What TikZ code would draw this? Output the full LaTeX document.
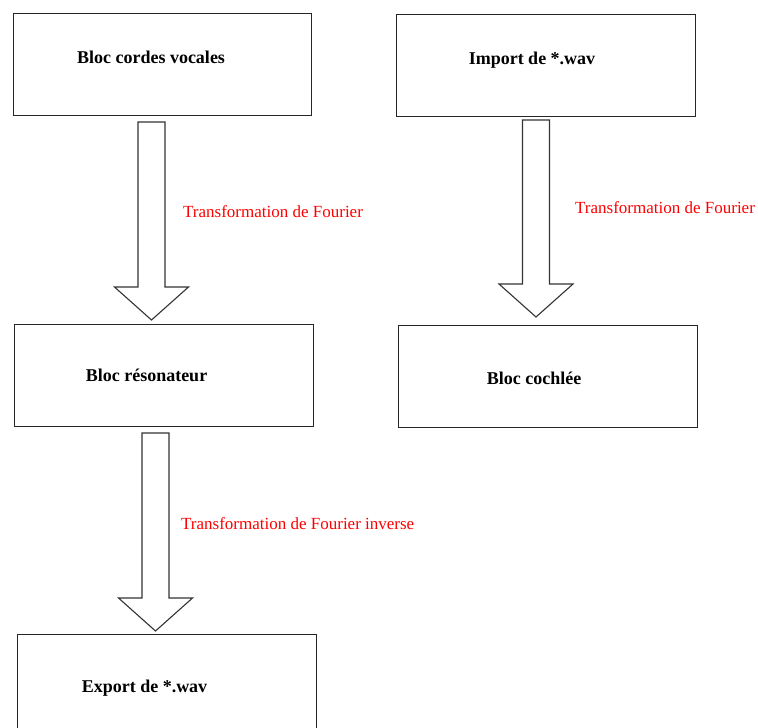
\documentclass[tikz,border=0pt]{standalone}
\usepackage{fontspec}
\setmainfont{Liberation Serif}
\usetikzlibrary{calc}
\tikzset{
  box/.style={draw=black!85, line width=1.2pt, rectangle, inner sep=0pt, anchor=north west},
  boxtext/.style={font=\fontsize{18}{20}\selectfont\bfseries, text=black, inner sep=0pt},
  redlab/.style={font=\fontsize{17}{19}\selectfont, text=red, inner sep=0pt, anchor=west},
  barrow/.style={draw=black!80, line width=1.1pt, fill=white, line join=miter},
}
\newcommand\blockarrow[2]{%
  \draw[barrow] ($(#1)+(-13.5,0)$) -- ($(#2)+(-13.5,-33)$) -- ($(#2)+(-37,-33)$) -- (#2)
    -- ($(#2)+(37,-33)$) -- ($(#2)+(13.5,-33)$) -- ($(#1)+(13.5,0)$) -- cycle;}
\begin{document}
\begin{tikzpicture}[x=1pt, y=-1pt]
\useasboundingbox (0,0) rectangle (758,728);
\fill[white] (0,0) rectangle (758,728);
% boxes
\node[box, minimum width=298pt, minimum height=102pt] (b1) at (12.5,13) {};
\node[box, minimum width=299pt, minimum height=102pt] (b2) at (395.5,13.5) {};
\node[box, minimum width=299pt, minimum height=102pt] (b3) at (14,324) {};
\node[box, minimum width=299pt, minimum height=102pt] (b4) at (397.5,325) {};
\node[box, minimum width=299pt, minimum height=120pt] (b5) at (17,634) {};
% box texts
\node[boxtext] (t1) at (151,57) {Bloc cordes vocales};
\node[boxtext] (t2) at (532,60) {Import de *.wav};
\node[boxtext] (t3) at (146.5,375) {Bloc résonateur};
\node[boxtext] (t4) at (534,378) {Bloc cochlée};
\node[boxtext] (t5) at (144.5,688) {Export de *.wav};
% arrow endpoints
\coordinate (s1) at (151.5,122);
\coordinate (e1) at (151.5,320);
\coordinate (s2) at (536,120);
\coordinate (e2) at (536,317);
\coordinate (s3) at (155.5,433);
\coordinate (e3) at (155.5,631);
\blockarrow{s1}{e1}
\blockarrow{s2}{e2}
\blockarrow{s3}{e3}
% labels
\node[redlab] (l1) at (183,212) {Transformation de Fourier};
\node[redlab] (l2) at (575,208) {Transformation de Fourier};
\node[redlab] (l3) at (181,524) {Transformation de Fourier inverse};
\end{tikzpicture}
\end{document}
